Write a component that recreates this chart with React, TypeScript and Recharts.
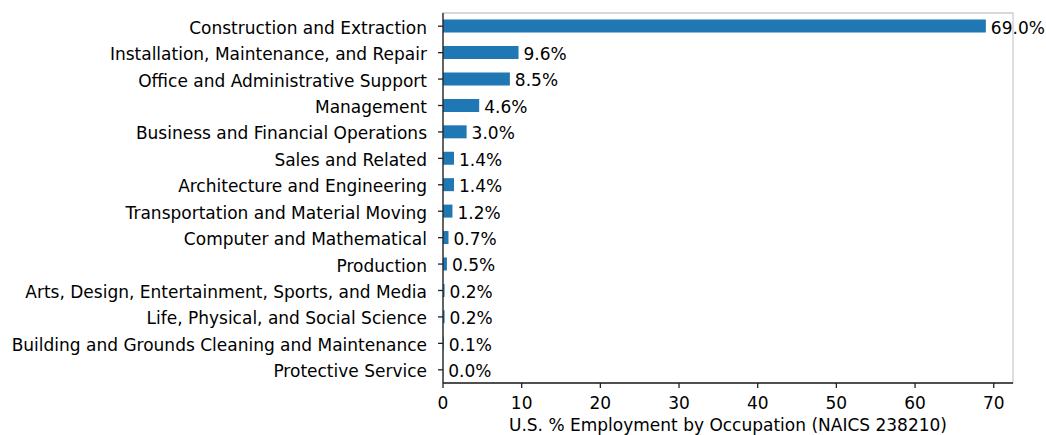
import { BarChart, Bar, XAxis, YAxis, LabelList, ReferenceArea } from "recharts"

const occupations = [
  "Construction and Extraction",
  "Installation, Maintenance, and Repair",
  "Office and Administrative Support",
  "Management",
  "Business and Financial Operations",
  "Sales and Related",
  "Architecture and Engineering",
  "Transportation and Material Moving",
  "Computer and Mathematical",
  "Production",
  "Arts, Design, Entertainment, Sports, and Media",
  "Life, Physical, and Social Science",
  "Building and Grounds Cleaning and Maintenance",
  "Protective Service",
]

// last one is shown as 0.0%, so something under 0.05
const shares = [69.0, 9.6, 8.5, 4.6, 3.0, 1.4, 1.4, 1.2, 0.7, 0.5, 0.2, 0.2, 0.1, 0.02]

const xTicks = [0, 10, 20, 30, 40, 50, 60, 70]

const data = occupations.map((name, i) => ({ name, value: shares[i] }))

const xMax = 69.0 * 1.05
const font = "DejaVu Sans, sans-serif"
const textStyle = { fontSize: 17, fill: "#000", fontFamily: font }

export default function App() {
  return (
    <div style={{ position: "absolute", left: 0, top: 0, background: "#fff" }}>
      <BarChart
        width={1046}
        height={435}
        data={data}
        layout="vertical"
        margin={{ top: 13, right: 33, bottom: 0, left: 0 }}
        barCategoryGap="25%"
      >
        <ReferenceArea
          x1={0}
          x2={xMax}
          fill="none"
          stroke="#ccc"
          strokeWidth={1.3}
          ifOverflow="visible"
        />
        <XAxis
          type="number"
          domain={[0, xMax]}
          ticks={xTicks}
          height={52}
          tickSize={5}
          tickMargin={9}
          tick={textStyle}
          axisLine={{ stroke: "#222", strokeWidth: 1.3 }}
          tickLine={{ stroke: "#222", strokeWidth: 1.3 }}
          label={{
            value: "U.S. % Employment by Occupation (NAICS 238210)",
            position: "insideBottom",
            offset: 4,
            style: textStyle,
          }}
        />
        <YAxis
          type="category"
          dataKey="name"
          width={443}
          interval={0}
          tickSize={5}
          tickMargin={11}
          tick={{ ...textStyle, dy: 1.5 }}
          axisLine={{ stroke: "#222", strokeWidth: 1.3 }}
          tickLine={{ stroke: "#222", strokeWidth: 1.3 }}
        />
        <Bar dataKey="value" fill="#1f77b4" isAnimationActive={false}>
          <LabelList
            dataKey="value"
            position="right"
            offset={5}
            dy={1.5}
            formatter={(v: number) => `${v.toFixed(1)}%`}
            style={textStyle}
          />
        </Bar>
      </BarChart>
    </div>
  )
}
